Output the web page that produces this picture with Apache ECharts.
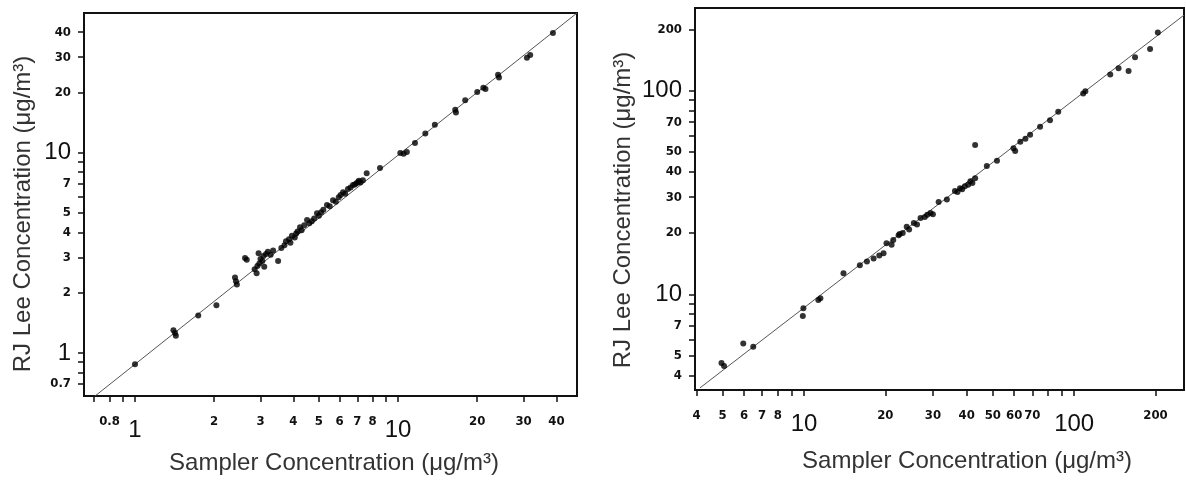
<!DOCTYPE html>
<html><head><meta charset="utf-8">
<script src="https://cdn.jsdelivr.net/npm/echarts@6/dist/echarts.min.js"></script>
<style>html,body{margin:0;padding:0;background:#fff}#c{width:1186px;height:484px}</style>
</head><body><div id="c"></div>
<script>
// ---- data ----
const leftPoints = [
  [1.0,0.88],[1.40,1.30],[1.42,1.26],[1.43,1.22],[1.74,1.54],[2.04,1.73],
  [2.40,2.38],[2.42,2.28],[2.44,2.20],[2.62,2.98],[2.66,2.92],
  [2.85,2.62],[2.90,2.50],[2.92,2.72],[2.97,2.80],[3.00,2.95],[3.05,2.88],[3.08,3.05],
  [3.15,3.12],[3.20,3.20],[3.28,3.10],[2.95,3.15],[3.10,2.70],[3.50,2.88],[3.35,3.25],
  [3.60,3.35],[3.70,3.45],[3.75,3.62],[3.85,3.70],[3.95,3.85],[4.05,3.78],[4.10,3.95],
  [3.90,3.55],[4.15,4.05],[4.24,4.25],[4.30,4.10],[4.40,4.35],[4.51,4.61],[4.60,4.45],
  [4.70,4.55],[4.80,4.70],[4.92,4.99],[5.00,4.85],[5.10,5.05],[5.20,5.20],[5.37,5.48],
  [5.50,5.40],[5.66,5.80],[5.80,5.70],[5.95,6.00],[6.05,6.15],[6.18,6.36],[6.30,6.25],
  [6.45,6.60],[6.60,6.70],[6.74,6.90],[6.85,6.95],[6.95,7.05],[7.05,7.14],[7.20,7.10],
  [7.10,7.25],[7.35,7.30],[7.60,7.91],[8.54,8.39],[10.2,9.97],[10.5,9.90],[10.8,10.1],
  [11.6,11.2],[12.7,12.5],[13.8,13.8],[16.5,16.4],[16.6,15.9],[18.0,18.3],[20.0,20.1],
  [21.1,21.1],[21.5,20.8],[24.0,24.5],[24.2,23.8],[30.9,29.8],[31.8,30.8],[38.8,39.7]
];
const rightPoints = [
  [4.95,4.60],[5.06,4.45],[5.96,5.74],[6.49,5.53],[9.95,8.54],[9.90,7.82],[11.3,9.38],
  [11.5,9.56],[14.0,12.7],[16.1,13.9],[17.1,14.5],[18.1,15.0],[19.0,15.5],[19.7,15.9],
  [20.2,17.8],[21.1,17.5],[21.4,18.5],[22.4,19.5],[22.6,19.8],[23.2,20.0],[24.0,21.5],
  [24.5,20.8],[25.5,22.4],[26.2,22.0],[27.0,23.7],[28.0,24.0],[28.6,24.6],[29.4,25.1],
  [30.0,24.7],[31.5,28.4],[33.8,29.2],[36.2,32.2],[37.0,31.8],[37.8,33.2],[38.5,32.8],
  [39.4,33.9],[40.5,34.5],[41.3,35.9],[42.0,35.2],[43.0,37.2],[43.0,54.1],[47.5,42.7],
  [51.8,45.3],[59.6,52.2],[60.5,50.5],[63.2,56.2],[66.0,58.0],[68.7,60.7],[74.8,66.6],
  [81.4,71.5],[87.3,78.8],[108,97],[110,99.4],[136,120],[146,129],[159,125],[168,146],
  [191,160],[204,193]
];
const leftLine = [[0.705,0.61],[47.9,49.9]];
const rightLine = [[4.12,3.47],[255,235]];

const leftXTicks  = [0.7,0.8,0.9,1,2,3,4,5,6,7,8,9,10,20,30,40];
const leftXLabels = [0.8,1,2,3,4,5,6,7,8,10,20,30,40];
const leftYTicks  = [0.7,0.8,0.9,1,2,3,4,5,6,7,8,9,10,20,30,40];
const leftYLabels = [0.7,1,2,3,4,5,7,10,20,30,40];
const rightXTicks  = [4,5,6,7,8,9,10,20,30,40,50,60,70,80,90,100,200];
const rightXLabels = [4,5,6,7,8,10,20,30,40,50,60,70,100,200];
const rightYTicks  = [4,5,6,7,8,9,10,20,30,40,50,60,70,80,90,100,200];
const rightYLabels = [4,5,7,10,20,30,40,50,70,100,200];
const bigLabels = [1,10,100];

const xTitle = 'Sampler Concentration (μg/m³)';
const yTitle = 'RJ Lee Concentration (μg/m³)';

// ---- chart ----
const INK = '#111';
function fmt(v){ return (bigLabels.indexOf(+v) >= 0 ? '{b|' : '{s|') + v + '}'; }
const richX = {
  s:{fontFamily:'Liberation Sans Narrow, DejaVu Sans Condensed, sans-serif',fontWeight:'bold',fontSize:13,color:INK,lineHeight:12},
  b:{fontFamily:'Liberation Sans, Arial, sans-serif',fontSize:24,color:INK,lineHeight:28}
};
const richY = {
  s:{fontFamily:'Liberation Sans Narrow, DejaVu Sans Condensed, sans-serif',fontWeight:'bold',fontSize:13,color:INK,lineHeight:14},
  b:{fontFamily:'Liberation Sans, Arial, sans-serif',fontSize:24,color:INK,lineHeight:24}
};
function axis(gi, min, max, ticks, labels, isX){
  return {
    type:'log', logBase:10, gridIndex:gi, min:min, max:max,
    splitLine:{show:false},
    axisLine:{show:true, lineStyle:{color:INK, width:2}},
    axisTick:{show:true, inside:false, length:6, customValues:ticks, lineStyle:{color:INK, width:1.5}},
    minorTick:{show:false},
    axisLabel:{show:true, customValues:labels, margin: isX ? 20 : 13, formatter:fmt, rich: isX ? richX : richY}
  };
}
const chart = echarts.init(document.getElementById('c'), null, {renderer:'canvas'});
chart.setOption({
  animation:false,
  backgroundColor:'#fff',
  grid:[
    {left:84, top:13, width:493, height:383, show:true, borderColor:INK, borderWidth:2, backgroundColor:'transparent'},
    {left:695, top:8, width:489, height:382, show:true, borderColor:INK, borderWidth:2, backgroundColor:'transparent'}
  ],
  xAxis:[ axis(0, 0.64, 47.9, leftXTicks, leftXLabels, true), axis(1, 3.95, 255, rightXTicks, rightXLabels, true) ],
  yAxis:[ axis(0, 0.61, 49.9, leftYTicks, leftYLabels, false), axis(1, 3.39, 254.7, rightYTicks, rightYLabels, false) ],
  series:[
    {type:'line', xAxisIndex:0, yAxisIndex:0, data:leftLine, symbol:'none', lineStyle:{color:'#555', width:1}, z:1},
    {type:'line', xAxisIndex:1, yAxisIndex:1, data:rightLine, symbol:'none', lineStyle:{color:'#555', width:1}, z:1},
    {type:'scatter', xAxisIndex:0, yAxisIndex:0, data:leftPoints, symbolSize:6, itemStyle:{color:'#000'}, z:2},
    {type:'scatter', xAxisIndex:1, yAxisIndex:1, data:rightPoints, symbolSize:6, itemStyle:{color:'#000'}, z:2}
  ],
  graphic:[
    {type:'text', x:334, y:463, style:{text:xTitle, font:'24px "Liberation Sans", Arial, sans-serif', fill:'#333', align:'center', verticalAlign:'middle'}},
    {type:'text', x:967, y:461, style:{text:xTitle, font:'24px "Liberation Sans", Arial, sans-serif', fill:'#333', align:'center', verticalAlign:'middle'}},
    {type:'text', x:23, y:214, rotation:Math.PI/2, style:{text:yTitle, font:'24px "Liberation Sans", Arial, sans-serif', fill:'#333', align:'center', verticalAlign:'middle'}},
    {type:'text', x:623, y:210, rotation:Math.PI/2, style:{text:yTitle, font:'24px "Liberation Sans", Arial, sans-serif', fill:'#333', align:'center', verticalAlign:'middle'}}
  ]
});
</script>
</body></html>
